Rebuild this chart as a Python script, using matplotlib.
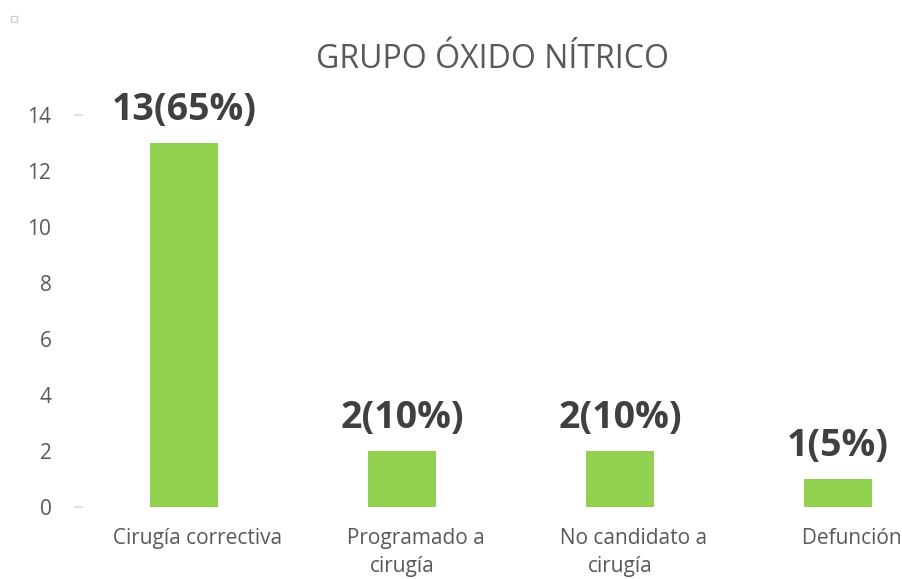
import matplotlib.pyplot as plt
from matplotlib.patches import Rectangle
from matplotlib import transforms

categories = ['Cirugía correctiva', 'Programado a\ncirugía', 'No candidato a\ncirugía', 'Defunción']
values = [13, 2, 2, 1]
bar_labels = ['13(65%)', '2(10%)', '2(10%)', '1(5%)']
yticks = [0, 2, 4, 6, 8, 10, 12, 14]

plt.rcParams['font.family'] = ['Open Sans', 'DejaVu Sans']

fig = plt.figure(figsize=(9.02, 5.79), dpi=100)
ax = fig.add_axes([75 / 902, 72 / 579, 872 / 902, 392 / 579])

x = list(range(len(categories)))
ax.bar(x, values, width=0.31, color='#92D050')

ax.set_xlim(-0.5, len(categories) - 0.5)
ax.set_ylim(0, 14)
ax.set_yticks(yticks)
ax.tick_params(axis='y', length=0, pad=17, labelsize=15, labelcolor='#595959')
ax.tick_params(axis='x', length=0, pad=15, labelsize=15, labelcolor='#595959')

# first line shifted right a bit like the original
shifted = []
for c in categories:
    lines = c.split('\n')
    lines[0] = '     ' + lines[0]
    shifted.append('\n'.join(lines))
ax.set_xticks(x)
ax.set_xticklabels(shifted, multialignment='center', va='top', linespacing=1.45)

for s in ax.spines.values():
    s.set_visible(False)

# small gray dashes on the value axis
trans = transforms.blended_transform_factory(ax.transAxes, ax.transData)
for yv in [0, 14]:
    ax.plot([0.0, 0.008], [yv, yv], color='#D9D9D9', lw=1.2, transform=trans, clip_on=False)

for xi, v, lab in zip(x, values, bar_labels):
    ax.annotate(lab, (xi, v), xytext=(0, 10), textcoords='offset points',
                ha='center', va='bottom', fontsize=27, fontweight='bold', color='#404040')

fig.text(493 / 902, 1 - 60 / 579, 'GRUPO ÓXIDO NÍTRICO', ha='center', va='center',
         fontsize=23, color='#595959')

fig.patches.append(Rectangle((11 / 902, 1 - 22 / 579), 6 / 902, 6 / 579, transform=fig.transFigure,
                             fill=False, edgecolor='#D0D0D0', lw=1))

fig.savefig('out.png', dpi=100)
